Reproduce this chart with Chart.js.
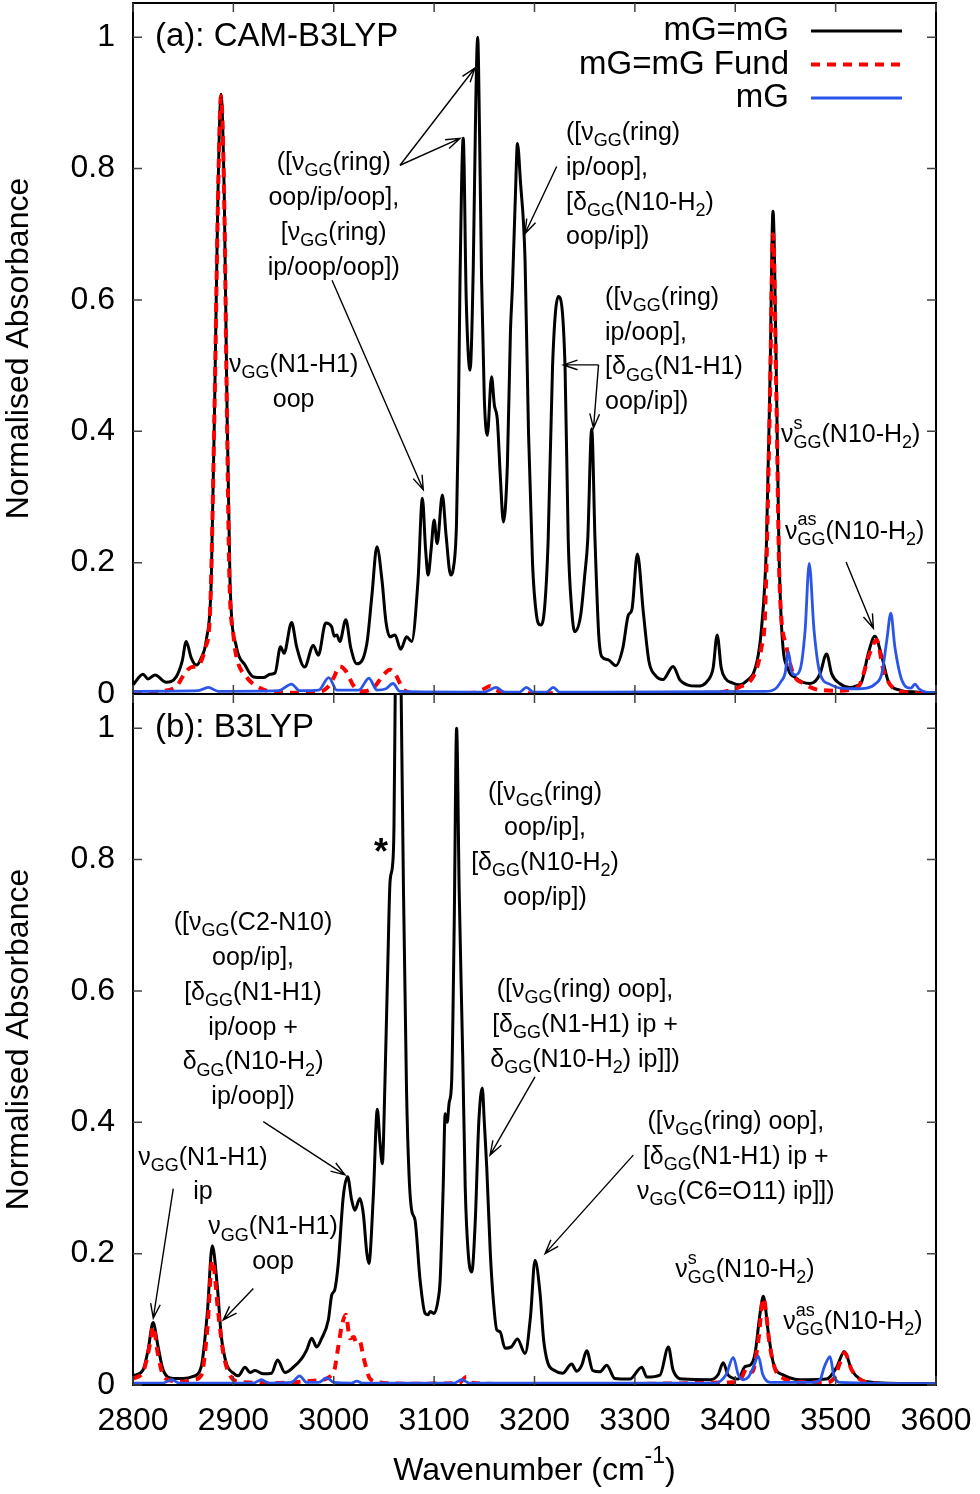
<!DOCTYPE html>
<html>
<head>
<meta charset="utf-8">
<script src="https://cdn.jsdelivr.net/npm/chart.js@4.4.1/dist/chart.umd.min.js"></script>
<style>
  body { margin: 0; background: #fff; }
  #wrap { position: relative; width: 980px; height: 1494px; }
  canvas { position: absolute; left: 0; }
  #ca { top: 0; }
  #cb { top: 690px; }
</style>
</head>
<body>
<div id="wrap">
  <canvas id="ca" width="980" height="720"></canvas>
  <canvas id="cb" width="980" height="804"></canvas>
</div>
<script>
const FONT = '"Liberation Sans", Arial, Helvetica, sans-serif';

const xTicks = [2800, 2900, 3000, 3100, 3200, 3300, 3400, 3500, 3600];
const yTicks = [0, 0.2, 0.4, 0.6, 0.8, 1];

// (a) CAM-B3LYP as [wavenumber, absorbance]
const camMgMg = [
  [2800,0.014],[2810,0.030],[2815,0.023],[2822,0.029],[2833,0.018],[2843,0.026],[2849,0.05],[2853,0.080],
  [2858,0.055],[2863,0.044],[2868,0.055],[2873,0.082],[2878,0.174],[2881.7,0.478],[2884.5,0.75],[2887.7,0.913],
  [2891,0.75],[2893.3,0.478],[2896.6,0.174],[2903,0.072],[2911.6,0.044],[2920,0.026],[2930,0.025],[2936.5,0.030],
  [2941.5,0.032],[2947,0.072],[2950.5,0.062],[2958,0.109],[2963,0.072],[2971,0.041],[2979.6,0.074],[2984.6,0.059],
  [2992,0.108],[2998,0.102],[3000.5,0.088],[3003,0.090],[3006,0.080],[3012,0.113],[3017,0.07],[3023,0.046],
  [3033,0.077],[3038,0.15],[3043,0.224],[3048,0.174],[3052,0.11],[3056,0.087],[3061,0.090],[3066.7,0.068],
  [3072.6,0.087],[3077.6,0.080],[3084,0.174],[3088.3,0.298],[3091.5,0.22],[3094,0.181],[3097,0.22],[3100,0.265],
  [3103,0.229],[3108.2,0.303],[3112,0.24],[3116.5,0.181],[3119,0.19],[3122.3,0.26],[3124,0.4],[3125.8,0.63],
  [3129,0.846],[3132,0.6],[3135.8,0.493],[3139,0.65],[3141.5,0.9],[3143.4,1.0],[3145.3,0.85],[3147.3,0.63],
  [3150,0.45],[3153,0.394],[3157.2,0.483],[3160,0.44],[3163,0.417],[3166,0.33],[3169,0.262],[3173,0.35],
  [3176,0.55],[3178,0.62],[3181,0.76],[3183,0.838],[3186,0.78],[3190.6,0.66],[3194,0.4],[3198,0.2],
  [3202,0.12],[3206,0.105],[3210,0.13],[3213.6,0.234],[3218,0.5],[3223.7,0.605],[3230.4,0.5],[3233.6,0.234],
  [3237,0.13],[3240,0.095],[3246,0.12],[3250,0.18],[3253,0.234],[3257,0.404],[3260.3,0.234],[3264,0.09],
  [3267,0.057],[3273.6,0.052],[3281,0.043],[3288,0.07],[3293.5,0.120],[3297,0.128],[3302.5,0.213],[3308.5,0.123],
  [3314,0.05],[3320,0.029],[3328,0.022],[3338,0.042],[3345,0.021],[3352,0.014],[3361.6,0.012],[3373,0.021],
  [3378,0.04],[3382,0.090],[3386,0.04],[3390,0.024],[3397,0.017],[3404.7,0.014],[3413,0.022],[3418,0.031],
  [3423,0.06],[3426,0.097],[3431,0.224],[3434.6,0.478],[3437.6,0.735],[3441,0.478],[3443.5,0.224],[3446.5,0.093],
  [3453,0.037],[3460,0.025],[3467,0.018],[3474.5,0.016],[3480,0.02],[3484.5,0.031],[3491,0.061],[3496,0.031],
  [3504,0.016],[3514,0.010],[3520,0.012],[3526,0.019],[3532.6,0.062],[3539,0.088],[3546,0.057],[3552.6,0.019],
  [3564,0.006],[3580,0.003],[3600,0.002]
];
const camFund = [
  [2800,0.0],[2815,0.002],[2827,0.004],[2843.5,0.012],[2851,0.03],[2857,0.04],[2866,0.045],[2872,0.07],
  [2876.7,0.123],[2881.5,0.46],[2884.5,0.74],[2887.7,0.91],[2891,0.74],[2893.3,0.46],[2896,0.18],[2900,0.09],
  [2903,0.057],[2913,0.026],[2926.5,0.009],[2940,0.003],[2960,0.002],[2985,0.003],[2995,0.012],[3000,0.025],
  [3006,0.042],[3012,0.035],[3020,0.012],[3030,0.004],[3040,0.010],[3050,0.030],[3056,0.037],[3062,0.028],
  [3070,0.006],[3085,0.001],[3140,0.002],[3150,0.008],[3156,0.012],[3162,0.006],[3175,0.001],[3380,0.002],
  [3404.7,0.011],[3415,0.02],[3421,0.037],[3426,0.07],[3429.7,0.123],[3434.6,0.45],[3437.6,0.70],[3441,0.45],
  [3444,0.174],[3451,0.072],[3458,0.03],[3468,0.016],[3484.5,0.006],[3505,0.005],[3518,0.008],[3524,0.014],
  [3534,0.062],[3541,0.082],[3547.5,0.037],[3557.5,0.009],[3575,0.002],[3600,0.0]
];
const camMg = [
  [2800,0.004],[2865,0.005],[2875,0.010],[2885,0.004],[2945,0.005],[2958,0.015],[2966,0.005],[2985,0.006],
  [2995,0.025],[3003,0.006],[3025,0.006],[3035,0.024],[3043,0.006],[3052,0.008],[3059,0.016],[3066,0.004],
  [3150,0.003],[3162,0.010],[3170,0.003],[3185,0.003],[3192,0.010],[3199,0.003],[3212,0.003],[3218.7,0.010],
  [3225,0.003],[3430,0.004],[3440,0.008],[3446,0.02],[3449.6,0.031],[3453,0.064],[3456,0.035],[3459.6,0.029],
  [3464.6,0.037],[3469.6,0.097],[3473.7,0.199],[3478.5,0.097],[3484.5,0.031],[3494,0.015],[3504.4,0.009],[3520,0.008],
  [3531,0.009],[3540,0.016],[3546,0.031],[3551,0.082],[3555,0.123],[3559,0.072],[3566,0.021],[3575,0.009],
  [3579,0.015],[3583,0.008],[3590,0.003],[3600,0.002]
];

// (b) B3LYP
const b3MgMg = [
  [2800,0.014],[2810,0.023],[2815,0.053],[2820,0.095],[2825,0.058],[2830,0.023],[2840,0.010],[2850,0.010],
  [2860,0.013],[2868,0.028],[2874,0.109],[2879,0.212],[2884,0.150],[2888,0.074],[2893,0.033],[2900,0.018],
  [2905,0.014],[2911.6,0.027],[2916.6,0.019],[2921.5,0.022],[2930,0.017],[2938,0.018],[2944,0.038],[2951.4,0.019],
  [2959.7,0.027],[2968,0.040],[2973,0.053],[2978,0.071],[2983,0.058],[2988,0.071],[2994.6,0.099],[2998,0.137],
  [3001,0.145],[3004.5,0.185],[3009.5,0.287],[3013.8,0.317],[3017.8,0.282],[3021,0.266],[3026,0.284],[3029.5,0.26],
  [3033,0.2],[3035,0.185],[3039.4,0.287],[3043.4,0.420],[3046,0.37],[3048.4,0.337],[3051,0.46],[3054,0.65],
  [3056,0.764],[3058.5,0.79],[3060,0.85],[3061.5,1.1],[3064,1.45],[3066.8,1.1],[3069.5,0.75],[3072.5,0.449],
  [3075,0.32],[3077.6,0.266],[3081,0.251],[3086,0.16],[3091,0.109],[3094,0.107],[3096,0.112],[3100,0.109],
  [3104,0.13],[3106,0.16],[3109,0.3],[3111,0.413],[3113,0.40],[3115,0.43],[3117.4,0.46],[3120,0.7],
  [3122.4,1.0],[3125,0.75],[3128.5,0.5],[3131,0.3],[3134,0.2],[3137.5,0.172],[3141,0.25],[3144.5,0.40],
  [3148,0.452],[3150,0.40],[3152.4,0.332],[3156,0.2],[3159,0.129],[3162.4,0.084],[3165.7,0.081],[3170.6,0.056],
  [3177,0.058],[3183,0.070],[3190.6,0.048],[3196,0.104],[3200.5,0.190],[3205.5,0.14],[3209,0.07],[3213,0.035],
  [3220,0.022],[3228,0.018],[3237,0.032],[3242,0.021],[3247,0.03],[3252,0.052],[3258,0.022],[3265,0.02],
  [3272,0.030],[3280,0.010],[3295,0.009],[3306.8,0.027],[3312,0.012],[3325,0.015],[3333.4,0.058],[3338,0.023],
  [3348,0.009],[3375,0.008],[3383,0.016],[3388,0.034],[3393,0.015],[3403,0.009],[3409.7,0.028],[3414.7,0.030],
  [3419.7,0.048],[3424.7,0.109],[3428,0.135],[3433,0.079],[3438,0.033],[3448,0.015],[3471,0.008],[3491,0.009],
  [3501,0.027],[3508.7,0.051],[3516,0.023],[3524,0.009],[3537.6,0.004],[3600,0.002]
];
const b3Fund = [
  [2800,0.010],[2810,0.02],[2817,0.063],[2820,0.089],[2825,0.045],[2830,0.015],[2840,0.006],[2850,0.005],
  [2860,0.008],[2868,0.015],[2874,0.084],[2879,0.19],[2885,0.109],[2890,0.048],[2896.6,0.015],[2906,0.005],
  [2940,0.003],[2983,0.007],[2999.6,0.018],[3004.5,0.058],[3008,0.09],[3012.2,0.107],[3016,0.071],[3020,0.073],
  [3022.5,0.064],[3026,0.066],[3029.5,0.043],[3036,0.010],[3046,0.004],[3080,0.002],[3125,0.003],[3132,0.012],
  [3139,0.003],[3200,0.001],[3395,0.004],[3405,0.008],[3412,0.026],[3417,0.02],[3423,0.068],[3428,0.132],
  [3434.6,0.058],[3440,0.023],[3448,0.010],[3470,0.004],[3490,0.004],[3498,0.009],[3504.4,0.034],[3509,0.049],
  [3516,0.023],[3524,0.009],[3540,0.002],[3600,0.0]
];
const b3Mg = [
  [2800,0.003],[2830,0.003],[2838.5,0.008],[2846,0.003],[2920,0.003],[2928,0.008],[2935,0.003],[2958,0.004],
  [2966,0.014],[2973,0.004],[2985,0.004],[2993,0.011],[3000,0.004],[3018,0.003],[3023,0.006],[3028,0.003],
  [3120,0.003],[3127.5,0.008],[3135,0.003],[3380,0.003],[3391,0.016],[3398,0.042],[3403,0.016],[3408,0.008],
  [3413,0.012],[3418,0.027],[3423,0.044],[3427.4,0.016],[3435,0.004],[3478,0.004],[3484.5,0.008],[3488.6,0.027],
  [3494.5,0.043],[3498,0.016],[3504,0.004],[3600,0.002]
];

const seriesNames = ['mG=mG', 'mG=mG Fund', 'mG'];

// annotation texts, placed in data units of each panel
const LINE_STEP = 0.053;
const notesA = [
  { x: 2960, y: 0.501, align: 'center', lines: ['ν_{GG}(N1-H1)', 'oop'] },
  { x: 3000, y: 0.808, align: 'center', lines: ['([ν_{GG}(ring)', 'oop/ip/oop],', '[ν_{GG}(ring)', 'ip/oop/oop])'] },
  { x: 3231.4, y: 0.854, align: 'left', lines: ['([ν_{GG}(ring)', 'ip/oop],', '[δ_{GG}(N10-H_{2})', 'oop/ip])'] },
  { x: 3270.3, y: 0.603, align: 'left', lines: ['([ν_{GG}(ring)', 'ip/oop],', '[δ_{GG}(N1-H1)', 'oop/ip])'] },
  { x: 3445.6, y: 0.394, align: 'left', lines: ['ν_{GG}^{s}(N10-H_{2})'] },
  { x: 3449.6, y: 0.247, align: 'left', lines: ['ν_{GG}^{as}(N10-H_{2})'] }
];
const arrowsA = [
  [[3066, 0.805], [3140.7, 0.953]],
  [[3066, 0.805], [3125.8, 0.846]],
  [[2998.3, 0.630], [3089.2, 0.311]],
  [[3222.1, 0.803], [3190.6, 0.701]],
  [[3263.8, 0.501], [3228.7, 0.501]],
  [[3263.8, 0.501], [3258.8, 0.405]],
  [[3510.4, 0.201], [3537.6, 0.100]]
];
const notesB = [
  { x: 3210.5, y: 0.901, align: 'center', lines: ['([ν_{GG}(ring)', 'oop/ip],', '[δ_{GG}(N10-H_{2})', 'oop/ip])'] },
  { x: 2919.6, y: 0.703, align: 'center', lines: ['([ν_{GG}(C2-N10)', 'oop/ip],', '[δ_{GG}(N1-H1)', 'ip/oop +', 'δ_{GG}(N10-H_{2})', 'ip/oop])'] },
  { x: 3250.3, y: 0.601, align: 'center', lines: ['([ν_{GG}(ring) oop],', '[δ_{GG}(N1-H1) ip +', 'δ_{GG}(N10-H_{2}) ip]])'] },
  { x: 3400.5, y: 0.400, align: 'center', lines: ['([ν_{GG}(ring) oop],', '[δ_{GG}(N1-H1) ip +', 'ν_{GG}(C6=O11) ip]])'] },
  { x: 2869.7, y: 0.346, align: 'center', lines: ['ν_{GG}(N1-H1)', 'ip'] },
  { x: 2939.5, y: 0.240, align: 'center', lines: ['ν_{GG}(N1-H1)', 'oop'] },
  { x: 3409.7, y: 0.175, align: 'center', lines: ['ν_{GG}^{s}(N10-H_{2})'] },
  { x: 3517.3, y: 0.096, align: 'center', lines: ['ν_{GG}^{as}(N10-H_{2})'] }
];
const arrowsB = [
  [[2929.8, 0.401], [3011.2, 0.320]],
  [[3200.5, 0.469], [3155.7, 0.350]],
  [[3298.4, 0.350], [3210.5, 0.200]],
  [[2840.1, 0.299], [2820.2, 0.102]],
  [[2919.9, 0.147], [2889.9, 0.099]]
];

// --- small rich-text helper: _{sub} and ^{sup}, stacked when adjacent
function parseRich(str) {
  const out = [];
  let buf = '', i = 0;
  while (i < str.length) {
    const c = str[i];
    if ((c === '_' || c === '^') && str[i + 1] === '{') {
      if (buf) { out.push({ t: buf, k: 'n' }); buf = ''; }
      const j = str.indexOf('}', i);
      out.push({ t: str.slice(i + 2, j), k: c === '_' ? 'sub' : 'sup' });
      i = j + 1;
    } else { buf += c; i++; }
  }
  if (buf) out.push({ t: buf, k: 'n' });
  return out;
}

function drawRich(ctx, str, x, y, size, align) {
  const segs = parseRich(str);
  const small = size * 0.72;
  const items = [];
  let w = 0;
  for (let k = 0; k < segs.length; k++) {
    const s = segs[k];
    if (s.k === 'n') {
      ctx.font = size + 'px ' + FONT;
      items.push({ t: s.t, x: w, dy: 0, size });
      w += ctx.measureText(s.t).width;
    } else {
      ctx.font = small + 'px ' + FONT;
      let sw = ctx.measureText(s.t).width;
      items.push({ t: s.t, x: w, dy: s.k === 'sub' ? size * 0.33 : -size * 0.45, size: small });
      const nx = segs[k + 1];
      if (nx && nx.k !== 'n' && nx.k !== s.k) {
        sw = Math.max(sw, ctx.measureText(nx.t).width);
        items.push({ t: nx.t, x: w, dy: nx.k === 'sub' ? size * 0.33 : -size * 0.45, size: small });
        k++;
      }
      w += sw;
    }
  }
  const x0 = align === 'center' ? x - w / 2 : align === 'right' ? x - w : x;
  ctx.textAlign = 'left';
  ctx.textBaseline = 'middle';
  items.forEach(it => {
    ctx.font = it.size + 'px ' + FONT;
    ctx.fillText(it.t, x0 + it.x, y + it.dy);
  });
}

function drawArrow(ctx, x1, y1, x2, y2) {
  const ang = Math.atan2(y2 - y1, x2 - x1), L = 15, spread = 0.33;
  ctx.beginPath();
  ctx.moveTo(x1, y1); ctx.lineTo(x2, y2);
  ctx.moveTo(x2 - L * Math.cos(ang - spread), y2 - L * Math.sin(ang - spread));
  ctx.lineTo(x2, y2);
  ctx.lineTo(x2 - L * Math.cos(ang + spread), y2 - L * Math.sin(ang + spread));
  ctx.stroke();
}

const decor = {
  id: 'decor',
  afterDraw(chart, args, opts) {
    const ctx = chart.ctx, a = chart.chartArea;
    const xs = chart.scales.x, ys = chart.scales.y;
    ctx.save();
    ctx.strokeStyle = '#000';
    ctx.lineWidth = 2;
    ctx.strokeRect(a.left, a.top, a.right - a.left, a.bottom - a.top);

    // inward tick marks on all four sides
    ctx.lineWidth = 1.5;
    ctx.strokeStyle = '#444';
    ctx.beginPath();
    yTicks.forEach(v => {
      const py = ys.getPixelForValue(v);
      ctx.moveTo(a.left, py); ctx.lineTo(a.left + 9, py);
      ctx.moveTo(a.right, py); ctx.lineTo(a.right - 9, py);
    });
    xTicks.forEach(v => {
      const px = xs.getPixelForValue(v);
      ctx.moveTo(px, a.bottom); ctx.lineTo(px, a.bottom - 9);
      ctx.moveTo(px, a.top); ctx.lineTo(px, a.top + 9);
    });
    ctx.stroke();
    ctx.strokeStyle = '#000';

    ctx.fillStyle = '#000';
    // panel label
    ctx.font = '33px ' + FONT;
    ctx.textAlign = 'left';
    ctx.textBaseline = 'middle';
    ctx.fillText(opts.panel, a.left + 22, ys.getPixelForValue(1));

    // annotations
    opts.notes.forEach(n => {
      n.lines.forEach((ln, i) => {
        drawRich(ctx, ln, xs.getPixelForValue(n.x), ys.getPixelForValue(n.y - i * LINE_STEP), 25, n.align);
      });
    });
    ctx.lineWidth = 1.4;
    opts.arrows.forEach(([f, t]) => {
      drawArrow(ctx, xs.getPixelForValue(f[0]), ys.getPixelForValue(f[1]),
                xs.getPixelForValue(t[0]), ys.getPixelForValue(t[1]));
    });

    if (opts.star) {
      ctx.font = 'bold 36px ' + FONT;
      ctx.textAlign = 'center';
      ctx.fillText('*', xs.getPixelForValue(opts.star[0]), ys.getPixelForValue(opts.star[1]));
    }

    if (opts.legend) {
      chart.data.datasets.forEach((ds, i) => {
        const yy = a.top + 28 + i * 33.5;
        ctx.font = '33px ' + FONT;
        ctx.textAlign = 'right';
        ctx.textBaseline = 'middle';
        ctx.fillText(ds.label, a.right - 147, yy);
        ctx.save();
        ctx.strokeStyle = ds.borderColor;
        ctx.lineWidth = ds.borderWidth;
        ctx.setLineDash(ds.borderDash || []);
        ctx.beginPath();
        ctx.moveTo(a.right - 125, yy); ctx.lineTo(a.right - 34, yy);
        ctx.stroke();
        ctx.restore();
      });
    }

    if (opts.xTitle) {
      drawRich(ctx, opts.xTitle, (a.left + a.right) / 2, a.bottom + 86, 32, 'center');
    }
    ctx.restore();
  }
};

function pts(arr) { return arr.map(p => ({ x: p[0], y: p[1] })); }

function makeSets(black, fund, blue) {
  return [
    { label: seriesNames[0], data: pts(black), borderColor: '#000000', borderWidth: 3, order: 2 },
    { label: seriesNames[1], data: pts(fund), borderColor: '#ff0000', borderWidth: 4, borderDash: [9, 7], order: 1 },
    { label: seriesNames[2], data: pts(blue), borderColor: '#2a55e8', borderWidth: 2.8, order: 0 }
  ].map(d => Object.assign(d, { pointRadius: 0, fill: false, cubicInterpolationMode: 'monotone' }));
}

function noPad(s) {
  s.paddingTop = 0; s.paddingBottom = 0; s.paddingLeft = 0; s.paddingRight = 0;
}

function yScale() {
  return {
    type: 'linear', min: 0, max: 1.052,
    afterBuildTicks: s => { s.ticks = yTicks.map(v => ({ value: v })); },
    afterFit: s => { s.width = 133; noPad(s); },
    grid: { display: false, drawTicks: false },
    border: { display: false },
    ticks: { color: '#000', font: { family: FONT, size: 32 }, padding: 18,
             callback: v => (v === 0 || v === 1) ? String(v) : v.toFixed(1) },
    title: { display: true, text: 'Normalised Absorbance', color: '#000',
             font: { family: FONT, size: 32 }, padding: { top: 0, bottom: 0 } }
  };
}

new Chart(document.getElementById('ca'), {
  type: 'line',
  data: { datasets: makeSets(camMgMg, camFund, camMg) },
  options: {
    responsive: false, animation: false,
    layout: { padding: { top: 3, right: 44, bottom: 26, left: 0 } },
    plugins: {
      legend: { display: false }, tooltip: { enabled: false },
      decor: { panel: '(a): CAM-B3LYP', notes: notesA, arrows: arrowsA, legend: true }
    },
    scales: {
      x: { type: 'linear', min: 2800, max: 3600, display: false },
      y: yScale()
    }
  },
  plugins: [decor]
});

new Chart(document.getElementById('cb'), {
  type: 'line',
  data: { datasets: makeSets(b3MgMg, b3Fund, b3Mg) },
  options: {
    responsive: false, animation: false,
    layout: { padding: { top: 4, right: 44, bottom: 0, left: 0 } },
    plugins: {
      legend: { display: false }, tooltip: { enabled: false },
      decor: { panel: '(b): B3LYP', notes: notesB, arrows: arrowsB, star: [3047.1, 0.808],
               xTitle: 'Wavenumber (cm^{-1})' }
    },
    scales: {
      x: {
        type: 'linear', min: 2800, max: 3600,
        afterBuildTicks: s => { s.ticks = xTicks.map(v => ({ value: v })); },
        afterFit: s => { s.height = 109; noPad(s); },
        grid: { display: false, drawTicks: false },
        border: { display: false },
        ticks: { color: '#000', font: { family: FONT, size: 32 }, padding: 17, maxRotation: 0,
                 callback: v => String(v) }
      },
      y: yScale()
    }
  },
  plugins: [decor]
});
</script>
</body>
</html>
